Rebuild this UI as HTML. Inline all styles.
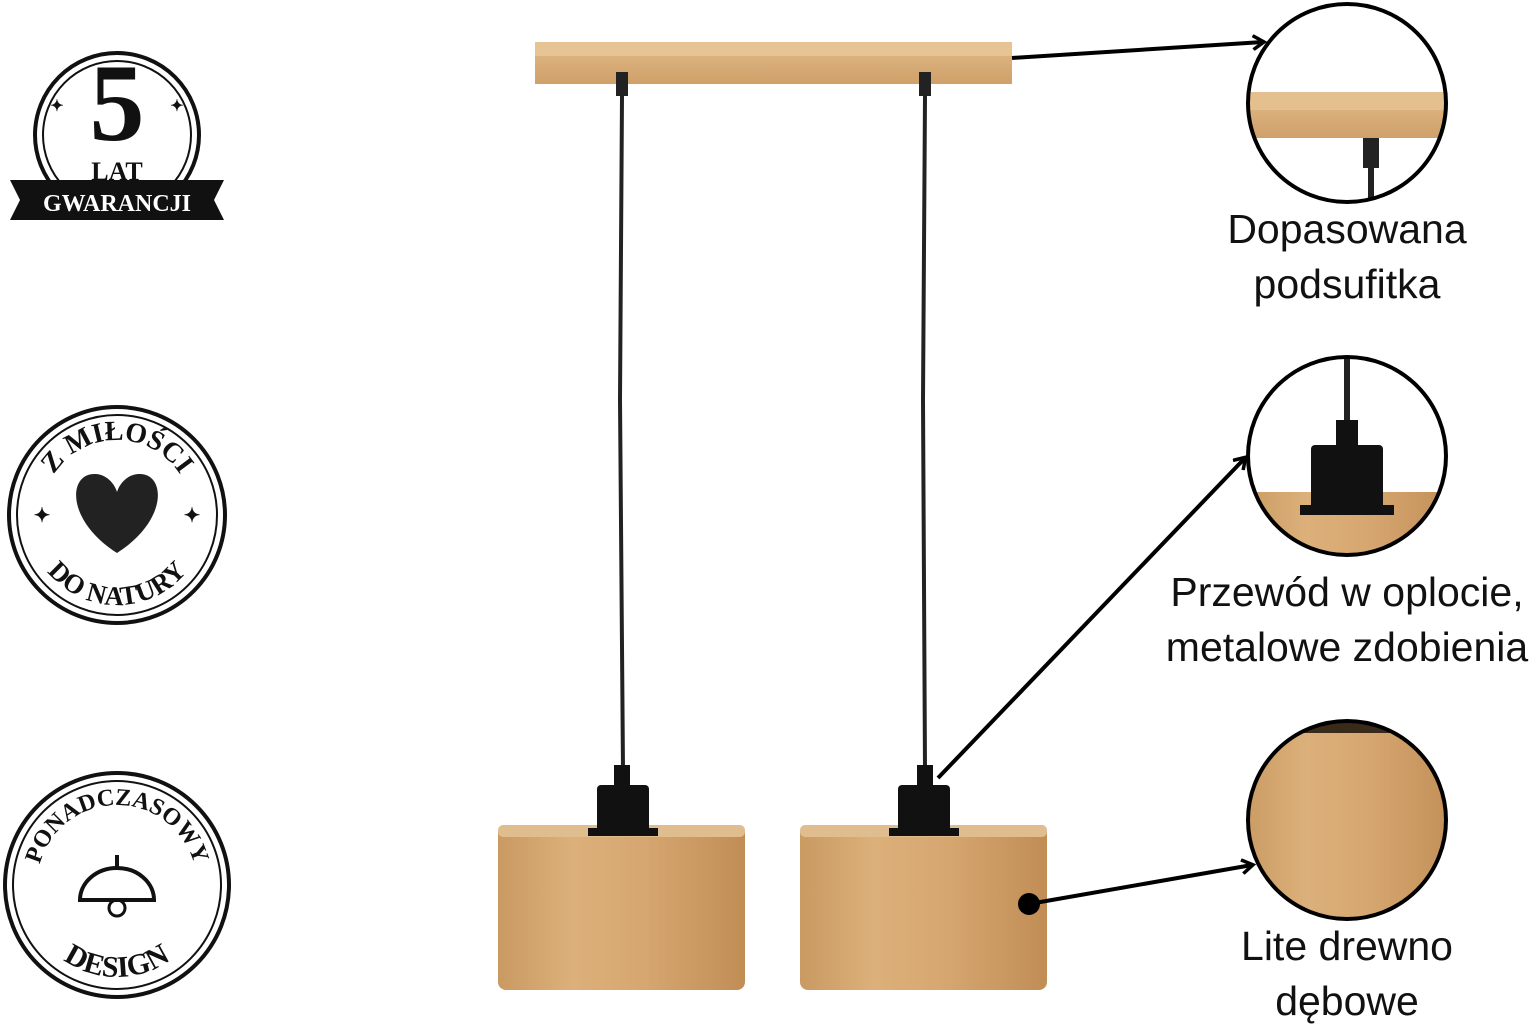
<!DOCTYPE html>
<html><head><meta charset="utf-8"><style>
body{margin:0;background:#fff;width:1536px;height:1024px;overflow:hidden}
svg{display:block}
text{font-family:"Liberation Sans",sans-serif}
</style></head><body>
<svg width="1536" height="1024" viewBox="0 0 1536 1024" xmlns="http://www.w3.org/2000/svg">
<defs>
<linearGradient id="wood" x1="0" x2="1" y1="0" y2="0">
<stop offset="0" stop-color="#c99a62"/><stop offset="0.3" stop-color="#dcb07a"/><stop offset="0.6" stop-color="#d6a670"/><stop offset="1" stop-color="#c08d55"/>
</linearGradient>
<linearGradient id="bar" x1="0" x2="0" y1="0" y2="1">
<stop offset="0" stop-color="#e2bb88"/><stop offset="1" stop-color="#cfa06a"/>
</linearGradient>
<clipPath id="c1"><circle cx="1347" cy="103" r="99"/></clipPath>
<clipPath id="c2"><circle cx="1347" cy="456" r="99"/></clipPath>
<clipPath id="c3"><circle cx="1347" cy="820" r="99"/></clipPath>
<marker id="ah" markerWidth="16" markerHeight="16" refX="12" refY="8" orient="auto" markerUnits="userSpaceOnUse"><path d="M2 1 L13 8 L2 15" fill="none" stroke="#000" stroke-width="3.5"/></marker>
<path id="t2" d="M42 515 A75 75 0 0 1 192 515"/>
<path id="b2" d="M27 515 A90 90 0 0 0 207 515"/>
<path id="t3" d="M37 885 A80 80 0 0 1 197 885"/>
<path id="b3" d="M25 885 A92 92 0 0 0 209 885"/>
</defs>

<rect x="535" y="42" width="477" height="42" fill="url(#bar)"/>
<rect x="535" y="42" width="477" height="14" fill="#e6c493"/>
<rect x="616" y="72" width="12" height="24" fill="#222"/>
<rect x="919" y="72" width="12" height="24" fill="#222"/>
<path d="M622 96 L620 400 L623 770" stroke="#222" stroke-width="4" fill="none"/>
<path d="M925 96 L923 400 L925 770" stroke="#222" stroke-width="4" fill="none"/>
<rect x="498" y="825" width="247" height="165" rx="8" fill="url(#wood)"/>
<rect x="498" y="825" width="247" height="12" rx="5" fill="#e0bd8e"/>
<rect x="614" y="765" width="16" height="22" fill="#111"/>
<rect x="597" y="785" width="52" height="48" rx="4" fill="#111"/>
<rect x="588" y="828" width="70" height="8" fill="#111"/>
<rect x="800" y="825" width="247" height="165" rx="8" fill="url(#wood)"/>
<rect x="800" y="825" width="247" height="12" rx="5" fill="#e0bd8e"/>
<rect x="917" y="765" width="16" height="22" fill="#111"/>
<rect x="898" y="785" width="52" height="48" rx="4" fill="#111"/>
<rect x="889" y="828" width="70" height="8" fill="#111"/>

<line x1="1012" y1="58" x2="1263" y2="42" stroke="#000" stroke-width="4" marker-end="url(#ah)"/>
<line x1="938" y1="778" x2="1245" y2="458" stroke="#000" stroke-width="4" marker-end="url(#ah)"/>
<circle cx="1029" cy="904" r="11" fill="#000"/>
<line x1="1029" y1="904" x2="1252" y2="865" stroke="#000" stroke-width="4" marker-end="url(#ah)"/>

<g clip-path="url(#c1)">
<rect x="1240" y="92" width="220" height="46" fill="url(#bar)"/>
<rect x="1240" y="92" width="220" height="18" fill="#e4c08e"/>
<rect x="1363" y="138" width="16" height="30" fill="#222"/>
<rect x="1368" y="165" width="6" height="40" fill="#222"/>
</g>
<circle cx="1347" cy="103" r="99" fill="none" stroke="#000" stroke-width="4"/>
<g clip-path="url(#c2)">
<rect x="1344" y="356" width="6" height="70" fill="#222"/>
<rect x="1336" y="420" width="22" height="30" fill="#111"/>
<rect x="1240" y="492" width="220" height="80" fill="url(#wood)"/>
<rect x="1311" y="445" width="72" height="65" rx="4" fill="#111"/>
<rect x="1300" y="505" width="94" height="10" fill="#111"/>
</g>
<circle cx="1347" cy="456" r="99" fill="none" stroke="#000" stroke-width="4"/>
<g clip-path="url(#c3)">
<rect x="1240" y="715" width="220" height="210" fill="url(#wood)"/>
<rect x="1240" y="715" width="220" height="18" fill="#3a2a1a"/>
</g>
<circle cx="1347" cy="820" r="99" fill="none" stroke="#000" stroke-width="4"/>

<g font-size="41" fill="#111" text-anchor="middle">
<text x="1347" y="243">Dopasowana</text>
<text x="1347" y="298">podsufitka</text>
<text x="1347" y="606">Przewód w oplocie,</text>
<text x="1347" y="661">metalowe zdobienia</text>
<text x="1347" y="960">Lite drewno</text>
<text x="1347" y="1015">dębowe</text>
</g>

<g font-weight="bold" fill="#111">
<circle cx="117" cy="135" r="82" fill="none" stroke="#111" stroke-width="4"/>
<circle cx="117" cy="135" r="74" fill="none" stroke="#111" stroke-width="2"/>
<text x="117" y="140" font-size="110" text-anchor="middle" style="font-family:'Liberation Serif',serif">5</text>
<text x="117" y="180" font-size="26" text-anchor="middle" style="font-family:'Liberation Serif',serif">LAT</text>
<path d="M10 180 L224 180 L214 200 L224 220 L10 220 L20 200 Z" fill="#111"/>
<text x="117" y="211" font-size="24" text-anchor="middle" fill="#fff" style="font-family:'Liberation Serif',serif">GWARANCJI</text>
<text x="57" y="111" font-size="16" text-anchor="middle">✦</text>
<text x="177" y="111" font-size="16" text-anchor="middle">✦</text>

<circle cx="117" cy="515" r="108" fill="none" stroke="#111" stroke-width="4"/>
<circle cx="117" cy="515" r="100" fill="none" stroke="#111" stroke-width="2"/>
<path d="M117 553 C65 520 68 472 96 474 C108 475 115 485 117 492 C119 485 126 475 138 474 C166 472 169 520 117 553Z" fill="#222"/>
<text font-size="28" style="font-family:'Liberation Serif',serif" text-anchor="middle"><textPath href="#t2" startOffset="50%">Z MIŁOŚCI</textPath></text>
<text font-size="27" style="font-family:'Liberation Serif',serif" text-anchor="middle"><textPath href="#b2" startOffset="50%">DO NATURY</textPath></text>
<text x="42" y="522" font-size="20" text-anchor="middle">✦</text>
<text x="192" y="522" font-size="20" text-anchor="middle">✦</text>

<circle cx="117" cy="885" r="112" fill="none" stroke="#111" stroke-width="4"/>
<circle cx="117" cy="885" r="104" fill="none" stroke="#111" stroke-width="2"/>
<text font-size="24" style="font-family:'Liberation Serif',serif" text-anchor="middle"><textPath href="#t3" startOffset="50%">PONADCZASOWY</textPath></text>
<text font-size="30" style="font-family:'Liberation Serif',serif" text-anchor="middle"><textPath href="#b3" startOffset="50%">DESIGN</textPath></text>
<line x1="117" y1="855" x2="117" y2="868" stroke="#111" stroke-width="4"/>
<path d="M80 900 A37 32 0 0 1 154 900 Z" fill="none" stroke="#111" stroke-width="4"/>
<circle cx="117" cy="908" r="8" fill="none" stroke="#111" stroke-width="3"/>
</g>
</svg>
</body></html>
